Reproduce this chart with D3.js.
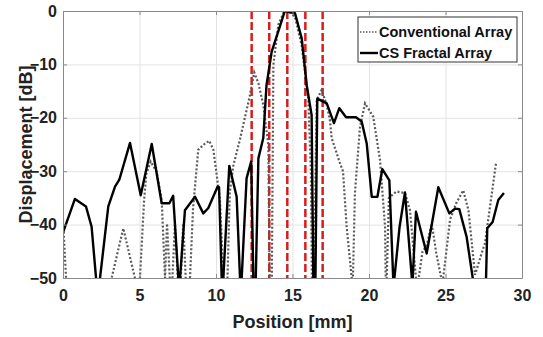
<!DOCTYPE html>
<html>
<head>
<meta charset="utf-8">
<script src="https://cdn.jsdelivr.net/npm/d3@7"></script>
<style>
  body { margin: 0; background: #fff; }
  text { font-family: "Liberation Sans", Arial, sans-serif; font-weight: bold; }
</style>
</head>
<body>
<script>
// Conventional array (dotted), position mm / level dB; -55/-60 = below the axis floor
var convX = [0, 0.2, 0.5, 3.0, 3.18, 3.94, 4.7, 4.85, 5.03, 5.3, 5.45, 5.73, 6.12, 6.45, 6.67, 6.8, 6.98, 7.08, 7.15, 7.32, 7.5, 7.6, 7.7, 7.86, 8.02, 8.15, 8.3, 8.5, 8.84, 9.2, 9.56, 9.83, 10.26, 10.48, 10.6, 10.75, 10.9, 11.13, 11.57, 12.2, 12.5, 12.77, 13.09, 13.42, 13.5, 13.57, 13.65, 13.75, 14.07, 14.4, 14.73, 15.16, 15.6, 16.03, 16.2, 16.27, 16.33, 16.4, 16.58, 16.9, 17.24, 17.45, 17.56, 18.1, 18.3, 18.54, 18.87, 18.91, 18.95, 19.08, 19.41, 19.74, 20.28, 20.72, 21.05, 21.09, 21.12, 21.16, 21.3, 21.8, 22.35, 22.68, 23.07, 23.15, 23.25, 23.5, 23.77, 24.1, 24.4, 24.72, 24.78, 24.85, 25.3, 25.7, 26.16, 26.5, 26.93, 27.36, 27.58, 28.3];
var convY = [-39.1, -50, -60, -60, -50, -40.7, -50, -60, -50, -35.4, -30.5, -28.2, -30.1, -35.4, -50, -39.8, -50, -60, -50, -39.8, -50, -60, -50, -39.8, -50, -60, -50, -37, -26, -25, -24.3, -26, -35.4, -50, -60, -50, -34, -29, -24, -16, -11.5, -13.5, -17.6, -25.1, -50, -60, -50, -10.1, -2.6, -0.4, 0, -1.1, -6.4, -16.4, -30, -50, -60, -50, -16.7, -14.8, -17.6, -20.5, -23.8, -28.5, -30, -40.4, -50, -55, -50, -34.1, -21.7, -17.3, -19.8, -27.9, -40.4, -50, -55, -50, -35, -33.8, -34.1, -37.3, -50, -55, -50, -45, -44, -39.8, -45.4, -50, -55, -50, -39, -36, -33.6, -37.3, -49.4, -45.4, -43.5, -28.5];

// CS fractal array (solid)
var csX = [0, 0.78, 1.5, 1.87, 2.16, 2.3, 2.42, 2.96, 3.4, 3.68, 4.38, 5.08, 5.8, 6.45, 6.95, 7.2, 7.54, 7.6, 7.65, 7.97, 8.63, 9.17, 9.5, 10.1, 10.2, 10.37, 10.42, 10.48, 10.87, 11.35, 11.57, 11.62, 11.68, 12.0, 12.3, 12.44, 12.52, 12.6, 12.77, 13.09, 13.3, 13.64, 14.14, 14.5, 14.95, 15.16, 15.6, 15.93, 16.25, 16.36, 16.42, 16.5, 16.62, 17.24, 17.71, 18.06, 18.5, 19.15, 19.52, 19.85, 20.18, 20.55, 20.87, 21.33, 21.58, 21.62, 21.66, 22.0, 22.35, 22.8, 22.83, 22.86, 23.07, 23.77, 24.53, 25.25, 25.62, 25.9, 26.38, 26.78, 27.2, 27.65, 27.73, 28.08, 28.45, 28.82];
var csY = [-41.5, -35.2, -36.6, -40.4, -50, -58, -50, -36.6, -32.9, -31.6, -24.7, -34.5, -24.9, -36, -36, -34.6, -50, -58, -50, -37.3, -34.8, -37.9, -36.9, -32.9, -33, -50, -58, -50, -29, -34.8, -50, -58, -50, -31.3, -28.2, -50, -58, -50, -27.6, -23.8, -13.9, -7.6, -3.2, 0, -0.3, -0.4, -5.1, -13.9, -19.5, -50, -58, -50, -16.4, -17.3, -21, -18.2, -19.9, -19.9, -20.7, -24.8, -34.8, -34.8, -29.6, -31.7, -50, -55, -50, -40.4, -34, -50, -55, -50, -37.6, -45.4, -33, -37.9, -37, -37.1, -42.3, -50, -60, -50, -40.7, -39.5, -35.4, -34.1];

// red dashed markers, mm
var markers = [12.33, 13.48, 14.66, 15.84, 16.97];

var xTicks = [0, 5, 10, 15, 20, 25, 30];
var yTicks = [0, -10, -20, -30, -40, -50];
var legendNames = ["Conventional Array", "CS Fractal Array"];

var margin = { top: 11, right: 21, bottom: 59, left: 63 },
    width = 543 - margin.left - margin.right,
    height = 337 - margin.top - margin.bottom;

var svg = d3.select("body").append("svg")
    .attr("width", 543)
    .attr("height", 337);

var g = svg.append("g")
    .attr("transform", `translate(${margin.left}, ${margin.top})`);

var x = d3.scaleLinear([0, 30], [0, width]);
var y = d3.scaleLinear([-50, 0], [height, 0]);

g.append("clipPath").attr("id", "clip")
    .append("rect").attr("width", width).attr("height", height);

// grid
g.append("g")
    .attr("transform", `translate(0, ${height})`)
    .call(d3.axisBottom(x).tickValues(xTicks).tickSize(-height).tickFormat(""))
    .call(a => a.select(".domain").remove())
    .call(a => a.selectAll("line").attr("stroke", "#e3e3e3"));
g.append("g")
    .call(d3.axisLeft(y).tickValues(yTicks).tickSize(-width).tickFormat(""))
    .call(a => a.select(".domain").remove())
    .call(a => a.selectAll("line").attr("stroke", "#e3e3e3"));

var plot = g.append("g").attr("clip-path", "url(#clip)");

plot.selectAll(".marker")
    .data(markers)
    .join("line")
    .attr("x1", d => x(d)).attr("x2", d => x(d))
    .attr("y1", 0).attr("y2", height)
    .attr("stroke", "#d41f1f")
    .attr("stroke-width", 2.5)
    .attr("stroke-dasharray", "8,3");

var line = d3.line().x(d => x(d[0])).y(d => y(d[1]));

plot.append("path")
    .datum(d3.zip(convX, convY))
    .attr("d", line)
    .attr("fill", "none")
    .attr("stroke", "#5a5a5a")
    .attr("stroke-width", 2.2)
    .attr("stroke-dasharray", "2,2");

plot.append("path")
    .datum(d3.zip(csX, csY))
    .attr("d", line)
    .attr("fill", "none")
    .attr("stroke", "#000")
    .attr("stroke-width", 2.4)
    .attr("stroke-linejoin", "round");

// axes
var axisColor = "#8a8a8a";
var styleAxis = a => {
    a.select(".domain").attr("stroke", axisColor);
    a.selectAll("line").attr("stroke", axisColor);
    a.selectAll("text").attr("font-size", 16).attr("fill", "#222")
        .attr("font-family", "'Liberation Sans', Arial, sans-serif").attr("font-weight", "bold");
};
g.append("g")
    .attr("transform", `translate(0, ${height})`)
    .call(d3.axisBottom(x).tickValues(xTicks).tickSize(-4).tickPadding(12).tickSizeOuter(0))
    .call(styleAxis);
g.append("g")
    .call(d3.axisLeft(y).tickValues(yTicks).tickSize(-4).tickPadding(6).tickSizeOuter(0))
    .call(styleAxis);
g.append("g")
    .call(d3.axisTop(x).tickValues(xTicks).tickSize(-4).tickFormat("").tickSizeOuter(0))
    .call(styleAxis);
g.append("g")
    .attr("transform", `translate(${width}, 0)`)
    .call(d3.axisRight(y).tickValues(yTicks).tickSize(-4).tickFormat("").tickSizeOuter(0))
    .call(styleAxis);

svg.append("text")
    .attr("x", margin.left + width / 2)
    .attr("y", 328)
    .attr("text-anchor", "middle")
    .attr("font-size", 18)
    .attr("fill", "#222")
    .text("Position [mm]");

svg.append("text")
    .attr("transform", `translate(32, ${margin.top + height / 2}) rotate(-90)`)
    .attr("text-anchor", "middle")
    .attr("font-size", 18)
    .attr("fill", "#222")
    .text("Displacement [dB]");

// legend
var legend = svg.append("g").attr("transform", "translate(358, 17)");
legend.append("rect")
    .attr("width", 159).attr("height", 45)
    .attr("fill", "#fff").attr("stroke", "#333").attr("stroke-width", 1);
legendNames.forEach((name, i) => {
    var ly = 15 + i * 21;
    legend.append("line")
        .attr("x1", 2).attr("x2", 20).attr("y1", ly).attr("y2", ly)
        .attr("stroke", i === 0 ? "#5a5a5a" : "#000")
        .attr("stroke-width", i === 0 ? 1.5 : 2.4)
        .attr("stroke-dasharray", i === 0 ? "1.5,1.5" : null);
    legend.append("text")
        .attr("x", 21).attr("y", ly + 5)
        .attr("font-size", 14.5)
        .attr("fill", "#111")
        .text(name);
});
</script>
</body>
</html>
